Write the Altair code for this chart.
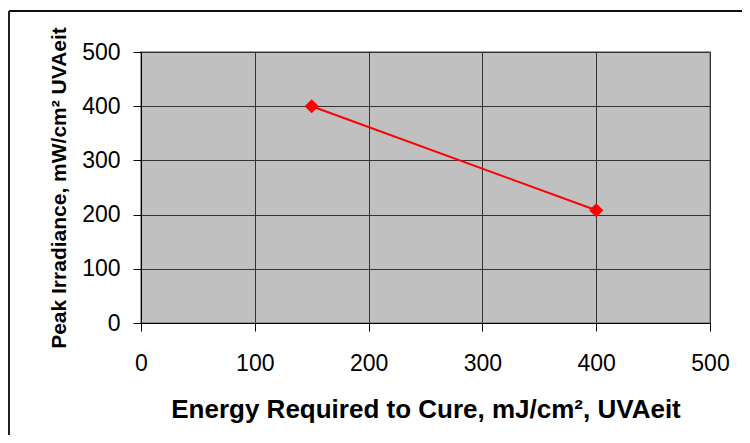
import altair as alt
import pandas as pd

energy = [150, 400]
irradiance = [400, 208]
x_ticks = [0, 100, 200, 300, 400, 500]
y_ticks = [0, 100, 200, 300, 400, 500]

df = pd.DataFrame({"energy": energy, "irradiance": irradiance})

FONT = "Liberation Sans"

x_enc = alt.X(
    "energy:Q",
    scale=alt.Scale(domain=[0, 500], nice=False),
    axis=alt.Axis(
        values=x_ticks,
        title="Energy Required to Cure, mJ/cm², UVAeit",
        titleFontSize=26,
        titleFont=FONT,
        titleFontWeight="bold",
        titleColor="black",
        titlePadding=21,
        labelFont=FONT,
        labelFontSize=23,
        labelColor="black",
        labelPadding=21,
        tickSize=8,
        tickColor="black",
        domainColor="black",
        gridColor="#333333",
        labelFlush=False,
    ),
)
y_enc = alt.Y(
    "irradiance:Q",
    scale=alt.Scale(domain=[0, 500], nice=False),
    axis=alt.Axis(
        values=y_ticks,
        title="Peak Irradiance, mW/cm² UVAeit",
        titleFontSize=21,
        titleFont=FONT,
        titleFontWeight="bold",
        titleColor="black",
        titlePadding=12,
        labelFont=FONT,
        labelFontSize=23,
        labelColor="black",
        labelPadding=13,
        tickSize=8,
        tickColor="black",
        domainColor="black",
        gridColor="#333333",
        labelFlush=False,
    ),
)

top_edge = alt.Chart(df).mark_rule(color="black", strokeWidth=1.3, clip=False).encode(
    x=alt.value(-132), x2=alt.value(700), y=alt.value(-41)
)
left_edge = alt.Chart(df).mark_rule(color="black", strokeWidth=1.3, clip=False).encode(
    x=alt.value(-132), y=alt.value(-41), y2=alt.value(500)
)

line = alt.Chart(df).mark_line(color="#FF0000", strokeWidth=2).encode(x=x_enc, y=y_enc)
pts = alt.Chart(df).mark_point(
    shape="diamond", size=200, filled=True, color="#FF0000", opacity=1
).encode(x="energy:Q", y="irradiance:Q")

chart = alt.layer(top_edge, left_edge, line, pts).properties(
    width=569,
    height=271,
    autosize=alt.AutoSizeParams(type="none"),
    padding={"left": 133, "top": 44, "right": 32, "bottom": 112},
    background="white",
).configure_view(
    fill="#C0C0C0", stroke="#808080", strokeWidth=1.5
)

chart.save("out.html", embed_options={"renderer": "svg", "actions": False})
